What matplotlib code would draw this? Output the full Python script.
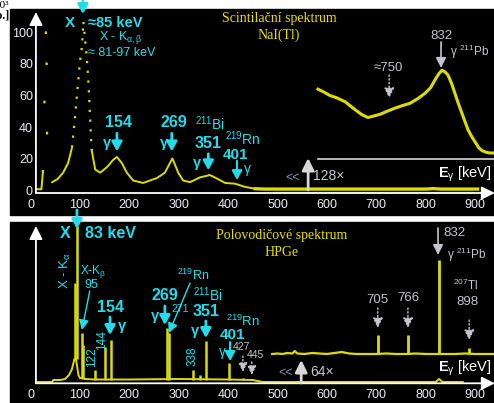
import matplotlib
matplotlib.use("Agg")
import matplotlib.pyplot as plt
from matplotlib.patches import Rectangle

# ---------------- data ----------------
x_ticks = [0, 100, 200, 300, 400, 500, 600, 700, 800, 900]
nai_y_ticks = [0, 20, 40, 60, 80, 100]

# NaI(Tl) scintillation spectrum (counts x1000)
nai_e = [12, 22, 25, 32, 34, 44, 55, 66, 76, 84, 90, 94, 100, 104, 107, 110, 114, 117,
         120, 122, 124, 131, 141, 155, 167, 175, 185, 195, 208, 228, 256, 272, 282,
         287, 290, 299, 309, 323, 343, 363, 373, 394, 414, 434, 455, 475, 520, 600,
         700, 800, 815, 830, 905]
nai_v = [0.5, 0.5, 11, 112, 13, 5, 7, 11, 17, 27, 46, 60, 81, 91, 107, 97, 84, 70,
         50, 36, 25, 13, 11, 14.6, 19, 21, 17, 11, 6, 4.5, 7.6, 11, 17,
         20, 18, 11, 6, 5, 8, 9.5, 8, 4.5, 4, 2, 0.8, 0.6, 0.6, 0.6,
         0.6, 0.6, 0.9, 0.6, 0.6]
# NaI magnified part (x128), drawn above its own baseline
nai_mag_e = [582, 595, 606, 620, 637, 657, 670, 683, 695, 707, 722, 738, 752, 768, 784,
             799, 810, 819, 827, 833, 839, 845, 852, 859, 866, 873, 880, 886, 893, 900,
             907, 914, 922, 930, 938]
nai_mag_v = [64, 62, 60, 58.5, 56, 51, 48, 46, 47, 48, 50, 52, 53.5, 55, 58,
             61.5, 65, 70, 74, 76, 75, 73, 68, 61.5, 55, 49, 43, 38, 34, 30.5,
             27, 25, 24, 23.5, 23.5]
nai_mag_base_e = [582, 940]
nai_mag_base_v = [20, 20]
nai_under_e = [490, 895]
nai_under_v = [-1.0, -1.0]

# HPGe semiconductor spectrum (arbitrary units)
hp_cont_e = [11, 44, 46, 60, 70, 78, 84, 89, 92, 97, 100, 110, 130, 200, 300, 400,
             450, 470, 800, 820, 827, 834, 850, 875]
hp_cont_v = [1, 1, 3, 3, 4, 8, 14, 24, 24, 8, 5, 4, 3.5, 3.5, 4, 3.5,
             3, 1, 1, 1, 4, 1, 1, 1]
hp_peak_e = [91, 94, 104, 107, 131, 151, 163, 276, 280, 328, 343, 355, 402, 430, 448]
hp_peak_base = [24, 24, 5, 5, 3.5, 3.5, 3.5, 3.5, 3.5, 3.5, 3.5, 3.5, 3.5, 3, 3]
hp_peak_h = [100, 157, 50, 38, 13, 36, 43, 55, 50, 13, 8, 42, 20, 5, 4]
# HPGe magnified part (x64)
hp_mag_e = [489, 500, 510, 520, 530, 535, 540, 555, 570, 585, 600, 615, 630, 645, 660,
            680, 700, 720, 740, 760, 780, 800, 820, 840, 860, 880, 900, 920, 938]
hp_mag_v = [29, 29.5, 29, 30, 29.5, 32, 29.5, 29, 30, 29.5, 29, 30, 31, 29.5, 29,
            29, 29, 29.5, 29, 29, 29.5, 29, 29, 29, 29, 29.5, 29, 29, 29]
hp_mag_peak_e = [703, 764, 827, 888]
hp_mag_peak_base = [29, 29, 29, 29]
hp_mag_peak_h = [48, 48, 123, 35]

# ---------------- style ----------------
W, H = 494, 403
CYAN = '#22dcea'
YEL = '#dcdc00'
TITLE = '#e6e000'
GREY = '#c4c4cc'
TICK = '#ececf4'
SANS = ['Liberation Sans', 'DejaVu Sans']
SERIF = ['Liberation Serif', 'DejaVu Serif']
plt.rcParams['font.family'] = SANS
plt.rcParams['mathtext.fontset'] = 'custom'
plt.rcParams['mathtext.rm'] = 'Liberation Sans'
plt.rcParams['mathtext.it'] = 'Liberation Sans'
plt.rcParams['mathtext.bf'] = 'Liberation Sans:bold'

fig = plt.figure(figsize=(W / 100, H / 100), dpi=100, facecolor='white')
fig.add_artist(Rectangle((10 / W, 1 - 215 / H), 484 / W, 206 / H,
                         transform=fig.transFigure, color='black', zorder=0))
fig.add_artist(Rectangle((10 / W, 0), 484 / W, (H - 222) / H,
                         transform=fig.transFigure, color='black', zorder=0))

fig.text(9.5 / W, 1 - 5 / H, "10³", ha='right', va='center', fontsize=8,
         family=SERIF, color='black')
fig.text(9.5 / W, 1 - 16 / H, "[imp.o.]", ha='right', va='center', fontsize=8.5,
         family=SERIF, color='black', fontweight='bold')

XW = 940 * 0.494
ax1 = fig.add_axes([30.5 / W, 1 - 196 / H, XW / W, 184 / H])
ax2 = fig.add_axes([30.5 / W, 1 - 386 / H, XW / W, 160 / H])
ax1.set_xlim(0, 940)
ax1.set_ylim(-3.8, 113)
ax2.set_xlim(0, 940)
ax2.set_ylim(-3, 157)

for ax in (ax1, ax2):
    ax.patch.set_alpha(0)
    for s in ax.spines.values():
        s.set_visible(False)
    ax.set_xticks(x_ticks)
    ax.set_xticklabels([str(t) for t in x_ticks])
    ax.tick_params(axis='both', length=0, colors=TICK, labelsize=9)

ax1.set_yticks(nai_y_ticks)
ax1.set_yticklabels([str(t) for t in nai_y_ticks])
ax1.tick_params(axis='y', pad=-1.8)
ax1.tick_params(axis='x', pad=2.4)
ax2.set_yticks([])
ax2.tick_params(axis='x', pad=1.8)


def arrow(ax, tail, tip, color, lw=2.0, ls='-', hl=0.4, hw=0.22, ms=14, z=5):
    ax.annotate("", xy=tip, xytext=tail, annotation_clip=False,
                arrowprops=dict(arrowstyle=f'-|>,head_length={hl},head_width={hw}',
                                color=color, lw=lw, linestyle=ls, shrinkA=0, shrinkB=0,
                                mutation_scale=ms), zorder=z)


def txt(ax, x, y, s, color=CYAN, size=9, ha='center', weight='normal', fam=SANS, rot=0):
    ax.text(x, y, s, color=color, fontsize=size, ha=ha, va='center', fontweight=weight,
            family=fam, rotation=rot, clip_on=False)


# ---------------- top panel: NaI ----------------
arrow(ax1, (11, -1.9), (940, -1.9), 'white', lw=1.3, hl=0.8, hw=0.4, ms=10)
arrow(ax1, (11, -1.9), (11, 113), 'white', lw=1.3, hl=0.8, hw=0.4, ms=10)

# line style changes along the curve: steep parts dotted, gentle parts solid
a = nai_e.index(25)
b = nai_e.index(44)
c = nai_e.index(84)
d = nai_e.index(124)
e = nai_e.index(455)
DOT = (0, (1, 3.4))
SPARSE = (0, (1.2, 30))
ax1.plot(nai_e[:a + 1], nai_v[:a + 1], color=YEL, lw=1.4, zorder=3)
ax1.plot(nai_e[a:b + 1], nai_v[a:b + 1], color=YEL, lw=1.6, ls=SPARSE, zorder=3)
ax1.plot(nai_e[b:c + 1], nai_v[b:c + 1], color=YEL, lw=1.4, zorder=3)
ax1.plot(nai_e[c:d + 1], nai_v[c:d + 1], color=YEL, lw=1.6, ls=DOT, zorder=3)
ax1.plot(nai_e[d:e + 1], nai_v[d:e + 1], color=YEL, lw=1.4, zorder=3)
ax1.plot(nai_under_e, nai_under_v, color='#6070b0', lw=1.0, zorder=2)
ax1.plot(nai_e[e:], nai_v[e:], color=YEL, lw=2.4, zorder=3)
ax1.plot(nai_mag_base_e, nai_mag_base_v, color='#d8d8d8', lw=1.2, zorder=2)
ax1.plot(nai_mag_e, nai_mag_v, color=YEL, lw=2.2, zorder=3)

# annotations
arrow(ax1, (106, 120), (106, 111.7), CYAN, lw=2)
txt(ax1, 80, 106, "X", size=11, weight='bold')
txt(ax1, 116, 106, "≈85 keV", size=10.5, weight='bold', ha='left')
txt(ax1, 139, 96.5, r"X - K$_{\alpha,\beta}$", size=9, ha='left')
txt(ax1, 116, 87, "≈ 81-97 keV", size=9, ha='left')
txt(ax1, 503, 108.6, "Scintilační spektrum", color=TITLE, size=10, fam=SERIF)
txt(ax1, 503, 98.4, "NaI(Tl)", color=TITLE, size=10, fam=SERIF)

txt(ax1, 179, 43, "154", size=11.5, weight='bold')
txt(ax1, 155, 30, "γ", size=10.5, weight='bold')
arrow(ax1, (175, 36), (175, 24.5), CYAN)
txt(ax1, 291, 43, "269", size=11.5, weight='bold')
txt(ax1, 271, 30, "γ", size=10.5, weight='bold')
arrow(ax1, (286, 36), (286, 24.5), CYAN)
txt(ax1, 333, 42, r"$^{211}$Bi", size=10, ha='left')
txt(ax1, 360, 29.5, "351", size=11.5, weight='bold')
txt(ax1, 337, 17, "γ", size=10.5, weight='bold')
arrow(ax1, (360, 23), (360, 12.5), CYAN)
txt(ax1, 394, 32.5, r"$^{219}$Rn", size=10, ha='left')
txt(ax1, 414, 22.5, "401", size=11, weight='bold')
txt(ax1, 440, 13.5, "γ", size=10)
arrow(ax1, (418, 18.5), (418, 6.3), CYAN, lw=1.5)

txt(ax1, 724, 77.5, "≈750", color=GREY, size=9.5)
arrow(ax1, (726, 73), (726, 58.4), GREY, lw=1.0, ls=':', hl=0.6, hw=0.3, ms=10)
txt(ax1, 831, 97.8, "832", color=GREY, size=9.5)
arrow(ax1, (831, 94), (831, 77.5), GREY, lw=1.2, hl=0.6, hw=0.3, ms=10)
txt(ax1, 850, 87.6, r"γ $^{211}$Pb", color=GREY, size=8.5, ha='left')

txt(ax1, 531, 7.6, "<<", color='#8a98b8', size=9)
arrow(ax1, (562, 0), (562, 20.3), '#d8d8d8', lw=2, hl=0.6, hw=0.3, ms=12)
txt(ax1, 572, 8.9, "128×", color='#c8c8d4', size=10, ha='left')
txt(ax1, 934, 10, r"$\mathbf{E}_{\gamma}$ [keV]", color='white', size=10.5, ha='right')

# ---------------- bottom panel: HPGe ----------------
arrow(ax2, (11, -0.3), (940, -0.3), 'white', lw=1.3, hl=0.8, hw=0.4, ms=10)
arrow(ax2, (11, -0.3), (11, 157), 'white', lw=1.3, hl=0.8, hw=0.4, ms=10)

ax2.plot(hp_cont_e, hp_cont_v, color=YEL, lw=1.4, zorder=3)
ax2.vlines(hp_peak_e, hp_peak_base, hp_peak_h, color=YEL, lw=1.8, zorder=3)
ax2.plot(hp_mag_e, hp_mag_v, color=YEL, lw=1.6, zorder=3)
ax2.vlines(hp_mag_peak_e, hp_mag_peak_base, hp_mag_peak_h, color=YEL, lw=2.0, zorder=3)

arrow(ax2, (94, 173), (94, 154), CYAN, lw=2)
txt(ax2, 70, 150, "X", size=11.5, weight='bold')
txt(ax2, 110, 150, "83 keV", size=11.5, weight='bold', ha='left')
txt(ax2, 70, 112, r"X - K$_{\alpha}$", size=9.5, rot=90)
txt(ax2, 100, 111, r"X-K$_{\beta}$", size=8.5, ha='left')
txt(ax2, 124, 98, "95", size=9)
arrow(ax2, (120, 92), (104, 53), CYAN, lw=1.0, hl=0.6, hw=0.3, ms=10)
txt(ax2, 124, 26, "122", size=8.5, rot=90)
txt(ax2, 145, 43, "144", size=8.5, rot=90)
txt(ax2, 161, 75, "154", size=11.5, weight='bold')
txt(ax2, 185, 57, "γ", size=10.5, weight='bold')
arrow(ax2, (161, 66), (161, 48), CYAN)
txt(ax2, 272, 88, "269", size=11.5, weight='bold')
txt(ax2, 252, 67, "γ", size=10.5, weight='bold')
arrow(ax2, (272, 77), (272, 58), CYAN)
txt(ax2, 297, 108, r"$^{219}$Rn", size=9, ha='left')
arrow(ax2, (323, 100), (280, 50), CYAN, lw=1.0, hl=0.6, hw=0.3, ms=10)
txt(ax2, 304, 74, "271", size=7.5)
txt(ax2, 329, 88, r"$^{211}$Bi", size=10, ha='left')
txt(ax2, 355, 72, "351", size=11.5, weight='bold')
txt(ax2, 333, 52, "γ", size=10.5, weight='bold')
arrow(ax2, (355, 62), (355, 45), CYAN)
txt(ax2, 329, 27, "338", size=8.5, rot=90)
txt(ax2, 396, 62, r"$^{219}$Rn", size=9.5, ha='left')
txt(ax2, 408, 48, "401", size=11, weight='bold')
txt(ax2, 388, 31, "γ", size=10)
arrow(ax2, (404, 41), (404, 22), CYAN, lw=1.5)
txt(ax2, 428, 36, "427", color=GREY, size=7.5)
arrow(ax2, (430, 27), (430, 11), GREY, lw=1.0, ls=':', hl=0.6, hw=0.3, ms=9)
txt(ax2, 456, 28, "445", color=GREY, size=7.5)
arrow(ax2, (448, 21), (448, 8), GREY, lw=1.0, ls=':', hl=0.6, hw=0.3, ms=9)

txt(ax2, 509, 148, "Polovodičové spektrum", color=TITLE, size=10, fam=SERIF)
txt(ax2, 509, 131, "HPGe", color=TITLE, size=10, fam=SERIF)

txt(ax2, 703, 83, "705", color=GREY, size=9.5)
arrow(ax2, (703, 75), (703, 55), GREY, lw=1.0, ls=':', hl=0.6, hw=0.3, ms=10)
txt(ax2, 764, 85, "766", color=GREY, size=9.5)
arrow(ax2, (764, 75), (764, 55), GREY, lw=1.0, ls=':', hl=0.6, hw=0.3, ms=10)
txt(ax2, 835, 150, "832", color=GREY, size=9.5, ha='left')
arrow(ax2, (825, 155), (825, 128), GREY, lw=1.2, hl=0.6, hw=0.3, ms=10)
txt(ax2, 843, 128, r"γ $^{211}$Pb", color=GREY, size=8.5, ha='left')
txt(ax2, 855, 98, r"$^{207}$Tl", color=GREY, size=8.5, ha='left')
txt(ax2, 884, 81, "898", color=GREY, size=9.5)
arrow(ax2, (888, 63), (888, 43), GREY, lw=1.0, ls=':', hl=0.6, hw=0.3, ms=10)

txt(ax2, 517, 10, "<<", color='#8a98b8', size=9)
arrow(ax2, (548, 0), (548, 23), '#d8d8d8', lw=2, hl=0.6, hw=0.3, ms=12)
txt(ax2, 566, 11, "64×", color='#c8c8d4', size=10, ha='left')
txt(ax2, 934, 15, r"$\mathbf{E}_{\gamma}$ [keV]", color='white', size=10.5, ha='right')

fig.savefig("out.png", dpi=100, facecolor='white')
